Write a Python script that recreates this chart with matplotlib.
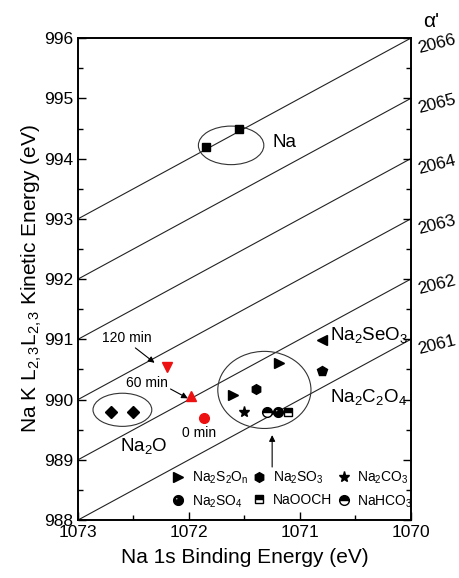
"""
Wagner plot for sodium compounds: Na KLL kinetic energy vs Na 1s binding energy
"""

import numpy as np
import matplotlib
matplotlib.use("Agg")
import matplotlib.pyplot as plt
from matplotlib.patches import Ellipse
from matplotlib.path import Path

plt.rcParams['font.family'] = ['Liberation Sans', 'DejaVu Sans']
plt.rcParams['mathtext.fontset'] = 'custom'
plt.rcParams['mathtext.rm'] = 'Liberation Sans'
plt.rcParams['mathtext.it'] = 'Liberation Sans'

# Auger parameter lines (alpha' = BE + KE)
alphas = [2061, 2062, 2063, 2064, 2065, 2066]

# (binding energy, kinetic energy) for each compound
na_be = [1071.85, 1071.55]
na_ke = [994.20, 994.50]
na2o_be = [1072.70, 1072.50]
na2o_ke = [989.80, 989.80]
s2on_be = [1071.60, 1071.19]
s2on_ke = [990.07, 990.60]
so3_be = [1071.40]
so3_ke = [990.17]
co3_be = [1071.50]
co3_ke = [989.80]
so4_be = [1071.20]
so4_ke = [989.79]
ooch_be = [1071.11]
ooch_ke = [989.79]
hco3_be = [1071.30]
hco3_ke = [989.79]
seo3_be = [1070.80]
seo3_ke = [990.99]
c2o4_be = [1070.80]
c2o4_ke = [990.48]

# sample after sputtering times
t0_be, t0_ke = 1071.86, 989.69
t60_be, t60_ke = 1071.98, 990.06
t120_be, t120_ke = 1072.20, 990.54


def sphere_marker():
    """black disc with a little white highlight hole"""
    t = np.linspace(0, 2*np.pi, 60, endpoint=False)
    outer = np.column_stack([np.cos(t), np.sin(t)])
    inner = np.column_stack([-0.35 + 0.28*np.cos(t[::-1]),
                             0.35 + 0.28*np.sin(t[::-1])])
    verts = np.vstack([outer, outer[:1], inner, inner[:1]])
    codes = ([Path.MOVETO] + [Path.LINETO]*59 + [Path.CLOSEPOLY] +
             [Path.MOVETO] + [Path.LINETO]*59 + [Path.CLOSEPOLY])
    return Path(verts, codes)


fig = plt.figure(figsize=(4.59, 5.78), dpi=100)
ax = fig.add_axes([0.170, 0.1003, 0.725, 0.8337])

be = np.array([1070.0, 1073.0])
for a in alphas:
    ax.plot(be, a - be, color="#222222", lw=0.8, zorder=1)

ms = 7
k = "black"
ax.plot(na_be, na_ke, "s", color=k, ms=6, zorder=3)
ax.plot(na2o_be, na2o_ke, "D", color=k, ms=6.5, ls="none", zorder=3)
h1, = ax.plot(s2on_be, s2on_ke, ">", color=k, ms=ms, ls="none")
h2, = ax.plot(so3_be, so3_ke, "h", color=k, ms=ms, ls="none")
h3, = ax.plot(co3_be, co3_ke, "*", color=k, ms=ms+1, ls="none")
h4, = ax.plot(so4_be, so4_ke, marker=sphere_marker(), color=k, ms=ms,
              ls="none")
h5, = ax.plot(ooch_be, ooch_ke, "s", mfc=k, mec=k, mfcalt="white",
              fillstyle="top", ms=6, ls="none")
h6, = ax.plot(hco3_be, hco3_ke, "o", mfc=k, mec=k, mfcalt="white",
              fillstyle="top", ms=ms, ls="none")
ax.plot(seo3_be, seo3_ke, "<", color=k, ms=ms)
ax.plot(c2o4_be, c2o4_ke, "p", color=k, ms=ms)

red = "#ee1111"
ax.plot(t0_be, t0_ke, "o", color=red, ms=ms)
ax.plot(t60_be, t60_ke, "^", color=red, ms=ms+0.5)
ax.plot(t120_be, t120_ke, "v", color=red, ms=ms+0.5)

# circled groups
for c, w, h in [((1071.62, 994.22), 0.59, 0.64),
                ((1072.60, 989.83), 0.53, 0.55),
                ((1071.32, 990.16), 0.84, 1.28)]:
    ax.add_patch(Ellipse(c, w, h, fill=False, ec="#333333", lw=0.8))

ap = dict(arrowstyle="-|>", color="black", lw=0.8, mutation_scale=9,
          shrinkA=0, shrinkB=0)
ax.annotate("120 min", xy=(1072.31, 990.61), xytext=(1072.56, 991.02),
            ha="center", va="center", fontsize=10,
            arrowprops=dict(ap, relpos=(0.6, 0.0)))
ax.annotate("60 min", xy=(1072.01, 990.02), xytext=(1072.38, 990.27),
            ha="center", va="center", fontsize=10,
            arrowprops=dict(ap, relpos=(1.0, 0.2)))
ax.text(1071.91, 989.44, "0 min", ha="center", va="center", fontsize=10)
ax.annotate("", xy=(1071.25, 989.41), xytext=(1071.25, 988.88),
            arrowprops=ap)

fs = 13.5
ax.text(1071.25, 994.27, "Na", fontsize=fs, va="center")
ax.text(1072.62, 989.23, "Na$_2$O", fontsize=fs, va="center")
ax.text(1070.73, 991.07, "Na$_2$SeO$_3$", fontsize=fs, va="center")
ax.text(1070.73, 990.05, "Na$_2$C$_2$O$_4$", fontsize=fs, va="center")

ax.legend([h1, h4, h2, h5, h3, h6],
          ["Na$_2$S$_2$O$_n$", "Na$_2$SO$_4$", "Na$_2$SO$_3$", "NaOOCH",
           "Na$_2$CO$_3$", "NaHCO$_3$"],
          ncol=3, loc="center", bbox_to_anchor=(0.645, 0.063),
          frameon=False, fontsize=10, handlelength=0.8,
          handletextpad=0.6, columnspacing=0.4, labelspacing=0.5,
          borderpad=0.1)

ax.set_xlim(1073, 1070)
ax.set_ylim(988, 996)
ax.set_xticks([1073, 1072, 1071, 1070])
ax.set_xticks(np.arange(1070.5, 1073, 1.0), minor=True)
ax.set_yticks(range(988, 997))
ax.set_yticks(np.arange(988.5, 996, 1.0), minor=True)
ax.tick_params(which="both", direction="in", top=False, right=False,
               labelsize=12.5, width=1.0)
ax.tick_params(which="major", length=6)
ax.tick_params(which="minor", length=3.5)
for s in ax.spines.values():
    s.set_linewidth(1.2)

ax.set_xlabel("Na 1s Binding Energy (eV)", fontsize=15, labelpad=6)
ax.set_ylabel("Na K L$_{2,3}$L$_{2,3}$ Kinetic Energy (eV)", fontsize=15,
              labelpad=0)

# right axis shows alpha' values
ax2 = ax.twinx()
ax2.set_ylim(988, 996)
ax2.set_yticks(range(988, 997))
ax2.set_yticklabels(["", "", ""] + [str(a) for a in alphas])
ax2.set_yticks(np.arange(988.5, 996, 1.0), minor=True)
ax2.tick_params(which="both", direction="in", labelsize=12.5, width=1.0,
                pad=4)
ax2.tick_params(which="major", length=6)
ax2.tick_params(which="minor", length=3.5)
for lab in ax2.get_yticklabels():
    lab.set_rotation(14)
    lab.set_rotation_mode("default")
    lab.set_ha("left")
    lab.set_va("center_baseline")
for s in ax2.spines.values():
    s.set_linewidth(1.2)
fig.text(0.939, 0.962, "α'", fontsize=15, ha="center", va="center")

fig.savefig("out.png", dpi=100)
